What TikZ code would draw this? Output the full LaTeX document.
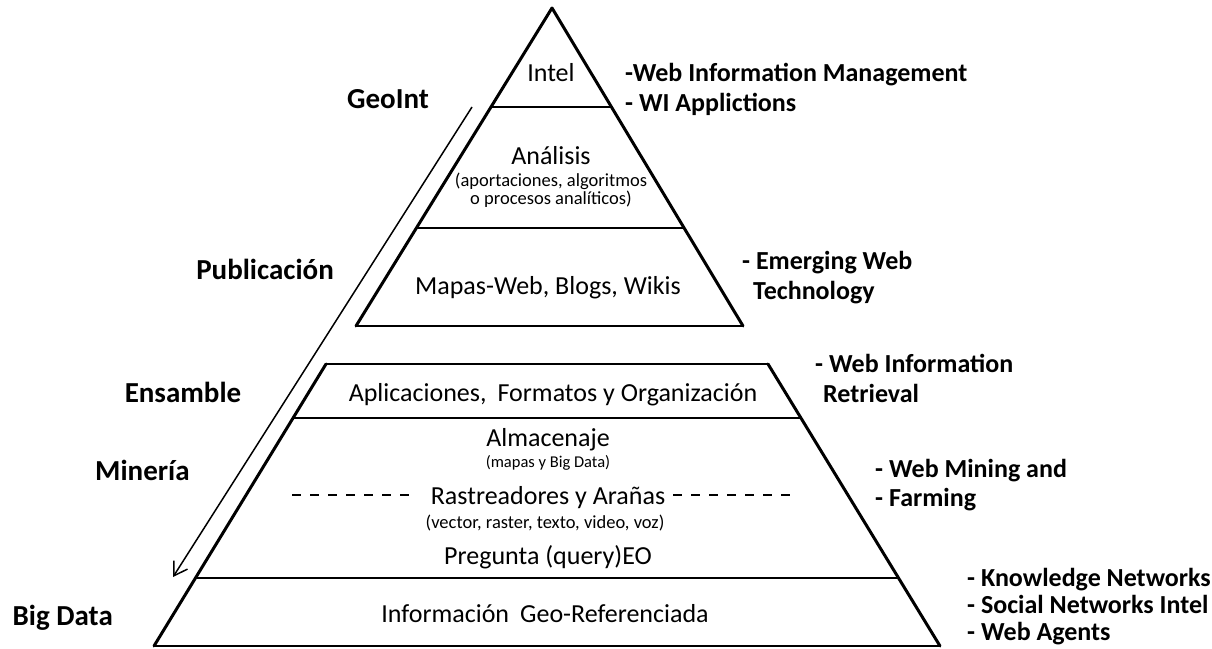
\documentclass[tikz,border=0pt]{standalone}
\usepackage{fontspec}
\setmainfont{Carlito}
\usetikzlibrary{arrows.meta,calc}
\begin{document}
\begin{tikzpicture}[x=1pt,y=-1pt,
  edge/.style={line width=3pt, line cap=round, line join=round},
  sep/.style={line width=1.8pt},
  dashsep/.style={line width=1.5pt, dash pattern=on 9pt off 9pt},
  main/.style={font=\fontsize{26}{30}\selectfont, inner sep=0pt, anchor=base},
  sub/.style={font=\fontsize{18.5}{19}\selectfont, inner sep=0pt, anchor=base},
  tiny/.style={font=\fontsize{16.5}{17}\selectfont, inner sep=0pt, anchor=base},
  side/.style={font=\bfseries\fontsize{29}{32}\selectfont, inner sep=0pt, anchor=base},
  note/.style={font=\bfseries\fontsize{26}{30}\selectfont, inner sep=0pt, anchor=base west},
]
\useasboundingbox[fill=white] (0,0) rectangle (1212,648);

% pyramid corners
\coordinate (apex) at (552,8);
\coordinate (tl) at (356,326);
\coordinate (tr) at (743,326);
\coordinate (bl1) at (326,364);
\coordinate (br1) at (768,364);
\coordinate (bl2) at (154,646);
\coordinate (br2) at (940,646);

% upper triangle
\draw[edge] (tl) -- (apex) -- (tr);
\draw[sep] (tl) -- (tr);
\coordinate (i1) at ($(apex)!0.3113!(tl)$);
\coordinate (i2) at ($(apex)!0.3113!(tr)$);
\coordinate (a1) at ($(apex)!0.6918!(tl)$);
\coordinate (a2) at ($(apex)!0.6918!(tr)$);
\draw[sep] (i1) -- (i2);
\draw[sep] (a1) -- (a2);

% lower trapezoid
\draw[edge] (bl1) -- (bl2);
\draw[edge] (br1) -- (br2);
\draw[sep] (bl1) -- (br1);
\draw[line width=2.4pt] (bl2) -- (br2);
\coordinate (p1) at ($(bl1)!0.1915!(bl2)$);
\coordinate (p2) at ($(br1)!0.1915!(br2)$);
\coordinate (g1) at ($(bl1)!0.7589!(bl2)$);
\coordinate (g2) at ($(br1)!0.7589!(br2)$);
\draw[sep] (p1) -- (p2);
\draw[sep] (g1) -- (g2);

% dashed line
\coordinate (d1) at (292,495);
\coordinate (d2) at (412,495);
\coordinate (d3) at (673,495);
\coordinate (d4) at (794,495);
\draw[dashsep] (d1) -- (d2);
\draw[dashsep] (d3) -- (d4);

% arrow
\coordinate (arrS) at (472,107);
\coordinate (arrE) at (173,577);
\draw[line width=1.5pt, -{Straight Barb[length=13pt,width=16pt,line width=1.5pt]}] (arrS) -- (arrE);

% pyramid texts
\node[main] (intel) at (551,81) {Intel};
\node[main] (analisis) at (551,164) {Análisis};
\node[sub] (analisisA) at (551,186) {(aportaciones, algoritmos};
\node[sub] (analisisB) at (551,204) {o procesos analíticos)};
\node[main] (mapas) at (548,294) {Mapas-Web, Blogs, Wikis};
\node[main] (aplic) at (553,401) {Aplicaciones,\hspace{0.2em} Formatos y Organización};
\node[main] (almac) at (548,446) {Almacenaje};
\node[tiny] (almacSub) at (548,467) {(mapas y Big Data)};
\node[main] (rastr) at (548,504) {Rastreadores y Arañas};
\node[sub] (rastrSub) at (545,528) {(vector, raster, texto, video, voz)};
\node[main] (preg) at (548,564) {Pregunta (query)EO};
\node[main] (info) at (545,622) {Información\hspace{0.2em} Geo-Referenciada};

% left labels
\node[side] (geoint) at (388,108) {GeoInt};
\node[side] (publ) at (265,279) {Publicación};
\node[side] (ensam) at (183,402) {Ensamble};
\node[side, anchor=base west] (mineria) at (95,480) {Minería};
\node[side, anchor=base east] (bigdata) at (113,625) {Big Data};

% right labels
\node[note] (wim) at (625,81) {-Web Information Management};
\node[note] (wia) at (625,111) {- WI Applictions};
\node[note] (emw) at (742,269) {- Emerging Web};
\node[note] (emt) at (753,299) {Technology};
\node[note] (wir) at (815,372) {- Web Information};
\node[note] (wirb) at (823,402) {Retrieval};
\node[note] (wmf) at (875,477) {- Web Mining and};
\node[note] (wmfb) at (875,506) {- Farming};
\node[note] (kn) at (967,586) {- Knowledge Networks};
\node[note] (sn) at (967,613) {- Social Networks Intel};
\node[note] (wa) at (967,640) {- Web Agents};
\end{tikzpicture}
\end{document}
